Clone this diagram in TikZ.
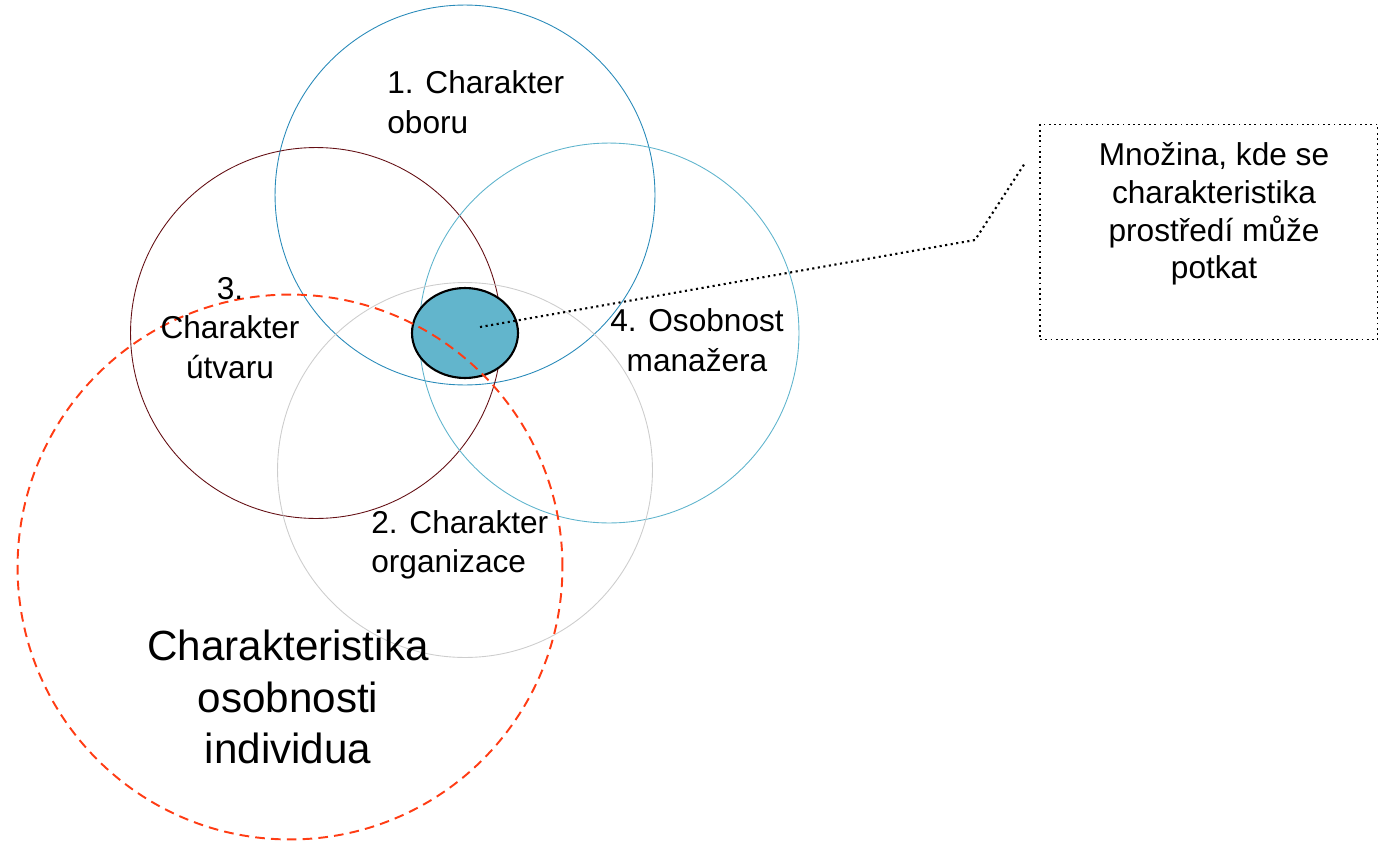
\documentclass[tikz,border=0pt]{standalone}
\usepackage{fontspec}
\setmainfont{Liberation Sans}
\usetikzlibrary{shapes,calc,positioning}
\definecolor{oborblue}{RGB}{40,138,185}
\definecolor{manblue}{RGB}{95,180,205}
\definecolor{utvred}{RGB}{100,15,20}
\definecolor{orggray}{RGB}{205,205,205}
\definecolor{indred}{RGB}{255,60,20}
\definecolor{setfill}{RGB}{98,181,204}
\tikzset{
    x=0.02cm,y=-0.02cm,
    set/.style ={circle, draw, inner sep=0pt, line width=0.5pt},
    lbl/.style = {inner sep=0pt, font=\fontsize{18}{22.5}\selectfont},
    biglbl/.style = {inner sep=0pt, align=center, font=\fontsize{24}{29.5}\selectfont}
}
\begin{document}
\begin{tikzpicture}
	\useasboundingbox (0,0) rectangle (1378,845);
	% the four environments
	\node (obor) [set, draw=oborblue, minimum size=7.6cm] at (465,195) {};
	\node (utvar) [set, draw=utvred, minimum size=7.42cm] at (316,333) {};
	\node (manazer) [set, draw=manblue, minimum size=7.6cm] at (609,333) {};
	\node (org) [set, draw=orggray, minimum size=7.5cm] at (465,470) {};
	% common part
	\node (mnozina) [ellipse, draw, line width=1.2pt, fill=setfill, minimum width=2.12cm, minimum height=1.8cm] at (465,333) {};
	% individual
	\node (individ) [set, draw=indred, line width=1.1pt, dash pattern=on 5.5pt off 3.5pt, minimum size=10.9cm] at (290,567) {};

	\node (t1) [lbl, align=left, anchor=west] at (387,102) {1. Charakter\\oboru};
	\node (t3) [lbl, align=center] at (230,328) {3.\\Charakter\\útvaru};
	\node (t4) [lbl, align=center] at (697,340) {4. Osobnost\\manažera};
	\node (t2) [lbl, align=left, anchor=west] at (371,545) {2. Charakter\\organizace};
	\node (tind) [biglbl] at (288,697) {Charakteristika\\osobnosti\\individua};

	\node (popis) [draw, dotted, line width=1pt, minimum width=6.76cm, minimum height=4.3cm] at (1209,232) {};
	\node (tpopis) [lbl, align=center, font=\fontsize{18}{21.5}\selectfont] at (1214,214) {Množina, kde se\\charakteristika\\prostředí může\\potkat};

	\coordinate (zlom) at (975,240);
	\coordinate (konec) at (1025,163);
	\draw [dotted, line width=1.2pt] (mnozina.center) ++(15,-6) -- (zlom) -- (konec);
\end{tikzpicture}
\end{document}
